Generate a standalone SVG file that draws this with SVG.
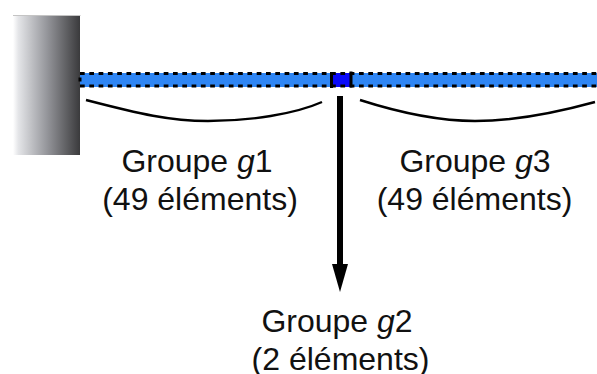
<svg xmlns="http://www.w3.org/2000/svg" width="597" height="374" viewBox="0 0 597 374">
<defs>
<linearGradient id="wall" x1="0" y1="0" x2="1" y2="0"><stop offset="0" stop-color="#ffffff"/><stop offset="0.08" stop-color="#e4e5e8"/><stop offset="0.5" stop-color="#96979c"/><stop offset="1" stop-color="#3a3a3c"/></linearGradient>
</defs>
<style>
text{font-family:"Liberation Sans",Arial,sans-serif;font-size:32px;fill:#111;text-anchor:middle}
.dots{stroke:#000;stroke-width:3;stroke-dasharray:4.7 4.6;fill:none}
.brace{stroke:#000;stroke-width:2.4;fill:none}
.tick{stroke:#000;stroke-width:3;fill:none}
</style>
<g id="wall-node"><rect x="13" y="16" width="67" height="139" fill="url(#wall)"/><path d="M13 15.500H80.500" stroke="#c4c4c4" stroke-width="1.200"/></g>
<g id="bar"><rect x="80" y="73" width="517" height="14" fill="#2f86f4"/><rect x="332" y="73" width="19" height="14" fill="#0a0afa"/></g>
<g id="connectors">
<path class="dots" d="M80 73.500H597M80 86H597"/>
<path class="tick" d="M331.500 72V88M351 71.500V87.500M80 77.500V81.500"/>
<path class="brace" d="M86 100C140 114 170 121 208 121C250 121 295 114 322 102"/>
<path class="brace" d="M360 100C410 116 445 121 475 121C510 121 555 113 595 102"/>
<path d="M340 96V268" stroke="#000" stroke-width="6" fill="none"/>
<path d="M332 264H348L340 292Z" fill="#000"/>
</g>
<g id="g1"><text x="197" y="172">Groupe <tspan font-style="italic">g</tspan>1</text><text x="200" y="210">(49 éléments)</text></g>
<g id="g3"><text x="475" y="172">Groupe <tspan font-style="italic">g</tspan>3</text><text x="474.500" y="210">(49 éléments)</text></g>
<g id="g2"><text x="337" y="332">Groupe <tspan font-style="italic">g</tspan>2</text><text x="340.500" y="369.500">(2 éléments)</text></g>
</svg>
